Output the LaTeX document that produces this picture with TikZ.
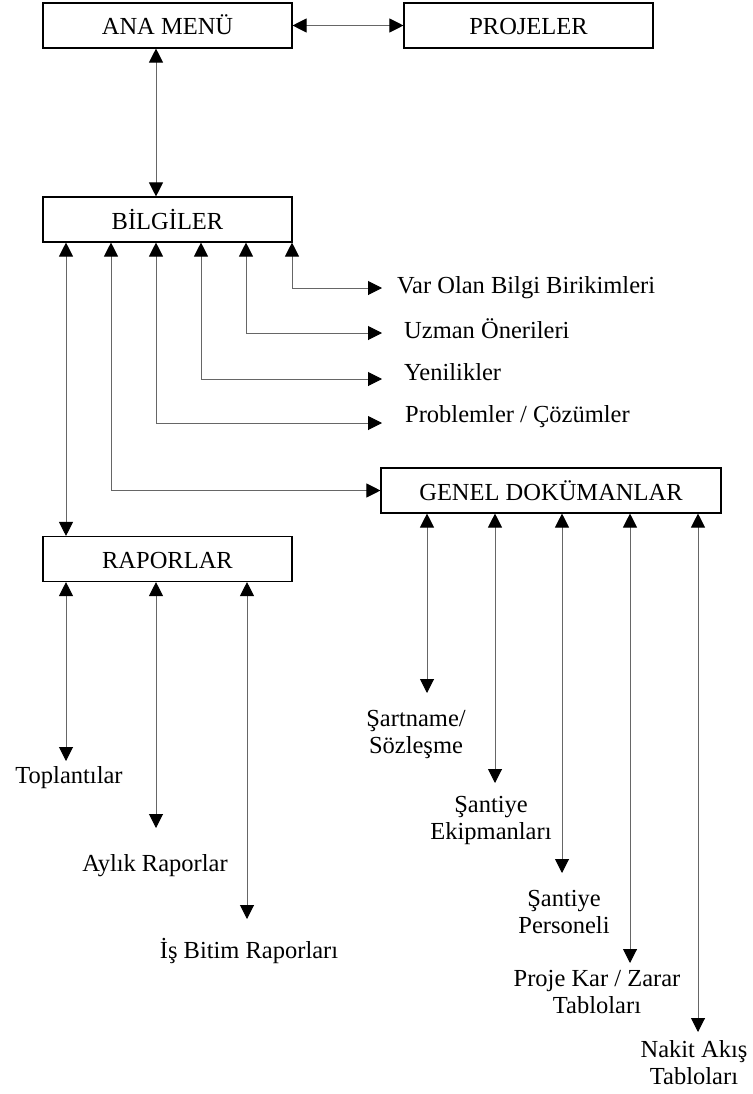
\documentclass[tikz,border=0pt]{standalone}
\usepackage{fontspec}
\setmainfont{Liberation Serif}
\usetikzlibrary{arrows.meta}
\begin{document}
\begin{tikzpicture}[x=1pt,y=-1pt,
  font=\fontsize{24.5}{27}\selectfont,
  box/.style={draw=black,line width=1.1pt,minimum width=249pt,minimum height=45pt,inner sep=0pt,text height=19pt,text depth=0pt},
  lbl/.style={inner sep=0pt,anchor=base west},
  lbl2/.style={inner sep=0pt,anchor=north,align=center},
  con/.style={draw=black!60,line width=1pt,
    {Triangle[length=14pt,width=14pt,color=black]}-{Triangle[length=14pt,width=14pt,color=black]}}]
\useasboundingbox (0,0) rectangle (752,1094);
% boxes
\node[box] (ana) at (167.5,25.5) {ANA MENÜ};
\node[box] (proj) at (528.5,25.5) {PROJELER};
\node[box] (bil) at (167.5,219.5) {BİLGİLER};
\node[box] (rap) at (167.5,559) {RAPORLAR};
\node[box,minimum width=340pt] (gen) at (551,490.5) {GENEL DOKÜMANLAR};
% column coordinates
\coordinate (c1) at (66,0);
\coordinate (c2) at (111,0);
\coordinate (c3) at (156,0);
\coordinate (c4) at (201,0);
\coordinate (c5) at (246,0);
\coordinate (c6) at (292,0);
% top connectors
\draw[con] (ana.east) -- (proj.west);
\draw[con] (ana.south -| c3) -- (bil.north -| c3);
% BILGILER side labels
\node[lbl] (var) at (397,293) {Var Olan Bilgi Birikimleri};
\node[lbl] (uzm) at (404,338) {Uzman Önerileri};
\node[lbl] (yen) at (404,380) {Yenilikler};
\node[lbl] (pro) at (405,422) {Problemler / Çözümler};
\coordinate (t1) at (382,288);
\coordinate (t2) at (382,333);
\coordinate (t3) at (382,379);
\coordinate (t4) at (382,423);
\draw[con] (bil.south -| c6) |- (t1);
\draw[con] (bil.south -| c5) |- (t2);
\draw[con] (bil.south -| c4) |- (t3);
\draw[con] (bil.south -| c3) |- (t4);
\draw[con] (bil.south -| c2) |- (gen.west);
\draw[con] (bil.south -| c1) -- (rap.north -| c1);
% RAPORLAR children
\node[inner sep=0pt,anchor=base] (top) at (69,783) {Toplantılar};
\node[inner sep=0pt,anchor=base] (ayl) at (155,871) {Aylık Raporlar};
\node[inner sep=0pt,anchor=base] (isb) at (249,958) {İş Bitim Raporları};
\coordinate (r1) at (66,761);
\coordinate (r2) at (156,828);
\coordinate (r3) at (247,919);
\draw[con] (rap.south -| r1) -- (r1);
\draw[con] (rap.south -| r2) -- (r2);
\draw[con] (rap.south -| r3) -- (r3);
% GENEL children
\node[lbl2] (sar) at (416,710) {Şartname/\\Sözleşme};
\node[lbl2] (sek) at (491,796) {Şantiye\\Ekipmanları};
\node[lbl2] (spe) at (564,890) {Şantiye\\Personeli};
\node[lbl2] (pkz) at (597,970) {Proje Kar / Zarar\\Tabloları};
\node[lbl2] (nak) at (694,1040) {Nakit Akış\\Tabloları};
\coordinate (d1) at (427,693);
\coordinate (d2) at (495,783);
\coordinate (d3) at (562,873);
\coordinate (d4) at (630,963);
\coordinate (d5) at (698,1032);
\draw[con] (gen.south -| d1) -- (d1);
\draw[con] (gen.south -| d2) -- (d2);
\draw[con] (gen.south -| d3) -- (d3);
\draw[con] (gen.south -| d4) -- (d4);
\draw[con] (gen.south -| d5) -- (d5);
\end{tikzpicture}
\end{document}
